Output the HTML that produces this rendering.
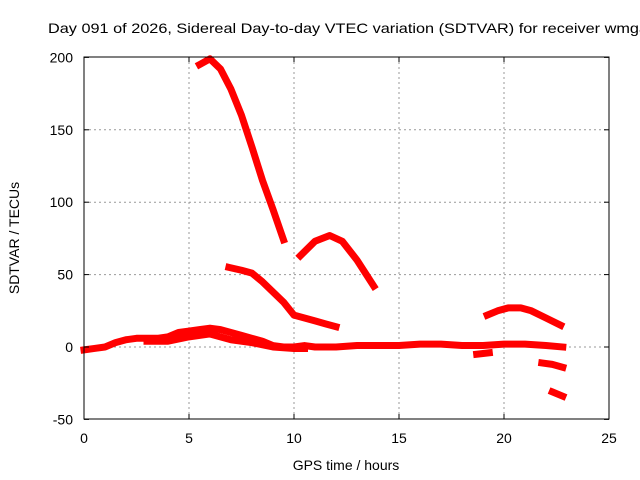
<!DOCTYPE html>
<html><head><meta charset="utf-8"><style>
body{margin:0;background:#fff;}
svg{display:block;font-family:"Liberation Sans",sans-serif;}
</style></head><body>
<svg id="chart" width="640" height="480">
<rect width="640" height="480" fill="#fff"/>
<text x="48" y="33" font-size="14" textLength="600" lengthAdjust="spacingAndGlyphs" fill="#000">Day 091 of 2026, Sidereal Day-to-day VTEC variation (SDTVAR) for receiver wmga</text>
<g id="grid"></g>
<g id="series"></g>
<rect x="84" y="57" width="525" height="362" fill="none" stroke="#000" stroke-width="1"/>
<g id="ticks"></g>
<text x="346" y="470" font-size="14" text-anchor="middle">GPS time / hours</text>
<text transform="translate(19,238) rotate(-90)" font-size="14" text-anchor="middle">SDTVAR / TECUs</text>
</svg>
<script>
const xTicks=[0,5,10,15,20,25];
const yTicks=[-50,0,50,100,150,200];
const segA=[[5.5,195],[6,199],[6.5,192],[7,178],[7.5,160],[8,138],[8.5,115],[9,95],[9.5,74]];
const segB=[[10.3,63],[11,73],[11.7,77],[12.3,73],[13,60],[13.8,42]];
const segC=[[6.9,55],[7.5,53],[8,51],[8.5,45],[9,38],[9.5,31],[10,22],[10.5,20],[11,18],[11.5,16],[12,14]];
const segD=[[0,-2],[0.5,-1],[1,0],[1.5,3],[2,5],[2.5,6],[3,6],[3.5,6],[4,7],[4.5,10],[5,11],[5.5,12],[6,13],[6.5,12],[7,10],[7.5,8],[8,6],[8.5,4],[9,1],[9.5,0],[10,0],[10.5,1],[11,0],[11.5,0],[12,0],[13,1],[14,1],[15,1],[16,2],[17,2],[18,1],[19,1],[20,2],[21,2],[22,1],[22.8,0]];
const segD2=[[3,4],[4,4],[5,7],[6,9],[7,5],[8,3],[9,0],[10,-1],[10.5,-1]];
const segE=[[19.2,22],[19.7,25],[20.2,27],[20.8,27],[21.3,25],[22,20],[22.7,15]];
const segF=[[18.7,-5],[19.3,-4]];
const segG=[[21.8,-11],[22.3,-12],[22.8,-14]];
const segH=[[22.3,-31],[22.8,-34]];
const segments=[segA,segB,segC,segD,segD2,segE,segF,segG,segH];
const X=h=>84+h*21;
const Y=v=>347-v*1.448;
const NS="http://www.w3.org/2000/svg";
const grid=document.getElementById('grid'),ticks=document.getElementById('ticks'),ser=document.getElementById('series');
function mk(tag,attrs,parent){const e=document.createElementNS(NS,tag);for(const k in attrs)e.setAttribute(k,attrs[k]);parent.appendChild(e);return e;}
xTicks.forEach(t=>{
  if(t>0&&t<25){const g=mk('line',{x1:X(t),x2:X(t),y1:57,y2:419,stroke:'#999','stroke-dasharray':'2,3'},grid);
  
  }
  mk('line',{x1:X(t),x2:X(t),y1:419,y2:414,stroke:'#000'},ticks);
  mk('line',{x1:X(t),x2:X(t),y1:57,y2:62,stroke:'#000'},ticks);
  const l=mk('text',{x:X(t),y:443,'font-size':14,'text-anchor':'middle'},ticks);l.textContent=t;
  
  
});
yTicks.forEach(t=>{
  if(t>-50&&t<200){const g=mk('line',{x1:84,x2:609,y1:Y(t),y2:Y(t),stroke:'#999','stroke-dasharray':'2,3'},grid);
  
  }
  mk('line',{x1:84,x2:89,y1:Y(t),y2:Y(t),stroke:'#000'},ticks);
  mk('line',{x1:609,x2:604,y1:Y(t),y2:Y(t),stroke:'#000'},ticks);
  const l=mk('text',{x:73,y:Y(t)+5,'font-size':14,'text-anchor':'end'},ticks);l.textContent=t;
  
  
});
segments.forEach(s=>{
  const p=mk('polyline',{points:s.map(d=>X(d[0])+','+Y(d[1])).join(' '),fill:'none',stroke:'#f00','stroke-width':7,'stroke-linejoin':'round','stroke-linecap':'square'},ser);
  
  
});
</script>
</body></html>
